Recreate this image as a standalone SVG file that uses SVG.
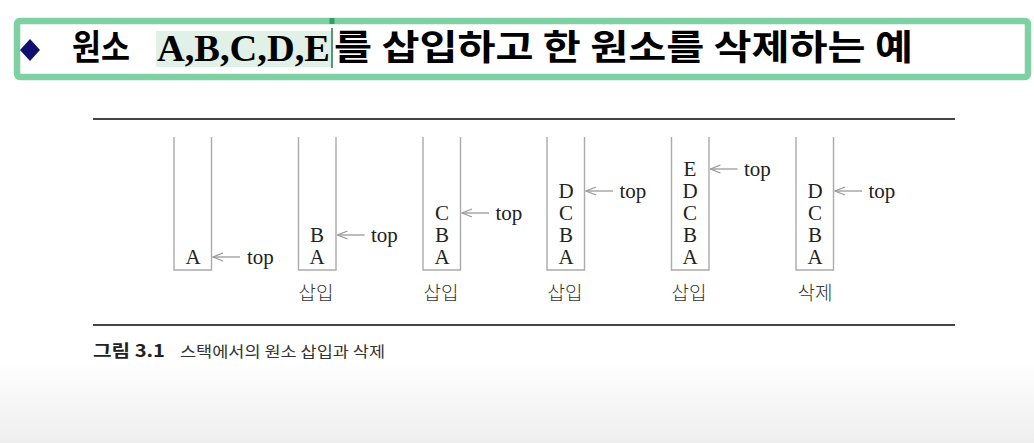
<svg xmlns="http://www.w3.org/2000/svg" width="1034" height="443" viewBox="0 0 1034 443">
<style>
.stk{fill:none;stroke:#aaaaaa;stroke-width:1.4}
.let{font-family:"Liberation Serif",serif;font-size:21px;fill:#222;text-anchor:middle}
.top{font-family:"Liberation Serif",serif;font-size:21px;fill:#222}
.arr{stroke:#999;stroke-width:1.3;fill:none}
.lab{font-family:"Noto Sans CJK KR",sans-serif;font-size:19px;font-weight:300;fill:#333;text-anchor:middle}
.rule{stroke:#444;stroke-width:2}
.ttl{font-family:"Noto Sans CJK KR",sans-serif;font-size:35px;font-weight:bold;fill:#000}
</style>
<defs>
<linearGradient id="bg" x1="0" y1="0" x2="0" y2="1">
<stop offset="0" stop-color="#ffffff"/>
<stop offset="1" stop-color="#eeeeee"/>
</linearGradient>
<marker id="ah" viewBox="0 0 12 10" refX="11" refY="5" markerWidth="12" markerHeight="10" markerUnits="userSpaceOnUse" orient="auto">
<path d="M1,1 L11,5 L1,9" fill="none" stroke="#999" stroke-width="1.3"/>
</marker>
</defs>
<rect width="1034" height="443" fill="#ffffff"/>
<rect x="0" y="360" width="1034" height="83" fill="url(#bg)"/>
<g id="title">
<rect x="17" y="21" width="1011" height="56" rx="3" fill="#ffffff" stroke="#7fd0a2" stroke-width="6.5"/>
<polygon points="30,39 40,50 30,61 20,50" fill="#101070"/>
<rect x="156" y="31" width="176" height="36" fill="#e2f1e7"/>
<text class="ttl" x="72" y="60" textLength="58" lengthAdjust="spacingAndGlyphs">원소</text>
<text x="157" y="61" font-family="Liberation Serif,serif" font-size="38" font-weight="bold" fill="#000" textLength="173" lengthAdjust="spacingAndGlyphs">A,B,C,D,E</text>
<line x1="332" y1="28" x2="332" y2="68" stroke="#1f7a45" stroke-width="1.5"/>
<rect x="329.5" y="18" width="5" height="6" fill="#2fa060"/>
<text class="ttl" x="334" y="60" textLength="579" lengthAdjust="spacingAndGlyphs">를 삽입하고 한 원소를 삭제하는 예</text>
</g>
<line class="rule" x1="93" y1="119" x2="955" y2="119"/>
<line class="rule" x1="93" y1="325" x2="955" y2="325"/>
<g id="stack1">
<path class="stk" d="M174,137 V270 H211.5 V137"/>
<text class="let" x="193" y="264">A</text>
</g>
<g id="stack2">
<path class="stk" d="M298.5,137 V270 H336 V137"/>
<text class="let" x="317" y="264">A</text>
<text class="let" x="317" y="242">B</text>
<text class="lab" x="316" y="300">삽입</text>
</g>
<g id="stack3">
<path class="stk" d="M423,137 V270 H460.5 V137"/>
<text class="let" x="442" y="264">A</text>
<text class="let" x="442" y="242">B</text>
<text class="let" x="442" y="220">C</text>
<text class="lab" x="441" y="300">삽입</text>
</g>
<g id="stack4">
<path class="stk" d="M547,137 V270 H584.5 V137"/>
<text class="let" x="566" y="264">A</text>
<text class="let" x="566" y="242">B</text>
<text class="let" x="566" y="220">C</text>
<text class="let" x="566" y="198">D</text>
<text class="lab" x="565" y="300">삽입</text>
</g>
<g id="stack5">
<path class="stk" d="M671.5,137 V270 H709 V137"/>
<text class="let" x="690" y="264">A</text>
<text class="let" x="690" y="242">B</text>
<text class="let" x="690" y="220">C</text>
<text class="let" x="690" y="198">D</text>
<text class="let" x="690" y="176">E</text>
<text class="lab" x="689" y="300">삽입</text>
</g>
<g id="stack6">
<path class="stk" d="M796,137 V270 H833.5 V137"/>
<text class="let" x="815" y="264">A</text>
<text class="let" x="815" y="242">B</text>
<text class="let" x="815" y="220">C</text>
<text class="let" x="815" y="198">D</text>
<text class="lab" x="815" y="300">삭제</text>
</g>
<g id="connectors">
<line class="arr" x1="240" y1="257" x2="213" y2="257" marker-end="url(#ah)"/>
<line class="arr" x1="364.5" y1="235" x2="337.5" y2="235" marker-end="url(#ah)"/>
<line class="arr" x1="489" y1="213" x2="462" y2="213" marker-end="url(#ah)"/>
<line class="arr" x1="613" y1="191" x2="586" y2="191" marker-end="url(#ah)"/>
<line class="arr" x1="737.5" y1="169" x2="710.5" y2="169" marker-end="url(#ah)"/>
<line class="arr" x1="862" y1="191" x2="835" y2="191" marker-end="url(#ah)"/>
</g>
<g id="toplabels">
<text class="top" x="247" y="264">top</text>
<text class="top" x="371" y="242">top</text>
<text class="top" x="495.5" y="220">top</text>
<text class="top" x="619.5" y="198">top</text>
<text class="top" x="744" y="176">top</text>
<text class="top" x="868.5" y="198">top</text>
</g>
<g id="caption">
<text x="93" y="357" font-family="Noto Sans CJK KR,sans-serif" font-size="17" font-weight="bold" fill="#222" textLength="72" lengthAdjust="spacingAndGlyphs">그림 3.1</text>
<text x="180" y="357" font-family="Noto Sans CJK KR,sans-serif" font-size="15" fill="#333" textLength="205" lengthAdjust="spacingAndGlyphs">스택에서의 원소 삽입과 삭제</text>
</g>
</svg>
